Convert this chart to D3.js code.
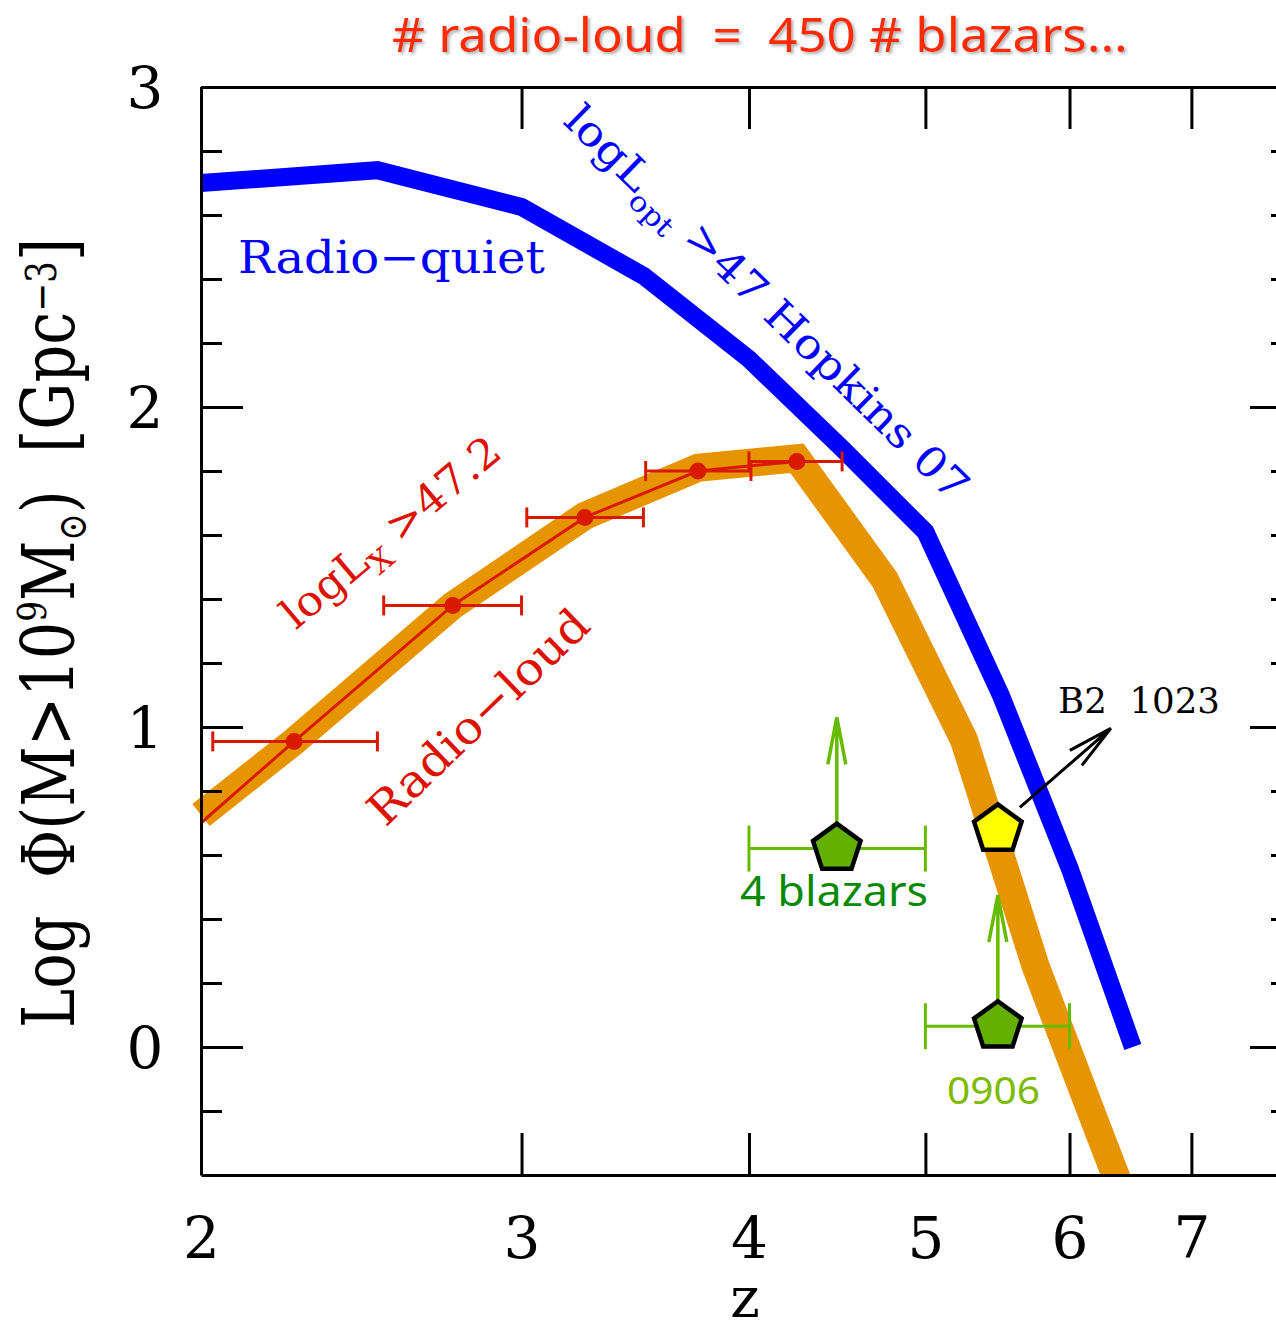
<!DOCTYPE html>
<html>
<head>
<meta charset="utf-8">
<script src="https://cdn.jsdelivr.net/npm/d3@7"></script>
<style>
    body { margin: 0; background: #fff; }
    svg { display: block; }
</style>
</head>
<body>
<div id="drawing_region"></div>
<script>
// tick values
const zTicks = [2, 3, 4, 5, 6, 7];
const yMajorTicks = [0, 1, 2, 3];
const yMinorTicks = [-0.2, 0.2, 0.4, 0.6, 0.8, 1.2, 1.4, 1.6, 1.8, 2.2, 2.4, 2.6, 2.8];

// radio-quiet (Hopkins 07), blue
const quietZ = [2.0, 2.5, 3.0, 3.5, 4.0, 4.5, 5.0, 5.5, 6.0, 6.5];
const quietLogPhi = [2.70, 2.74, 2.625, 2.41, 2.15, 1.87, 1.61, 1.10, 0.56, 0.0];

// radio-loud band, orange
const loudZ = [2.0, 2.25, 2.75, 3.25, 3.75, 4.25, 4.75, 5.25, 5.75, 6.25, 6.5];
const loudLogPhi = [0.725, 0.955, 1.38, 1.66, 1.81, 1.84, 1.46, 0.96, 0.25, -0.29, -0.54];

// logLx > 47.2 points, red
const xrayZ = [2.25, 2.75, 3.25, 3.75, 4.25];
const xrayLogPhi = [0.955, 1.38, 1.655, 1.80, 1.83];
const xrayZlo = [2.03, 2.52, 3.02, 3.51, 4.0];
const xrayZhi = [2.5, 3.0, 3.5, 4.01, 4.5];
const xrayLineZ = [2.0, 2.25, 2.75, 3.25, 3.75, 4.25];
const xrayLineLogPhi = [0.70, 0.955, 1.38, 1.655, 1.80, 1.83];

// blazar lower limits, green
const blazarNames = ["4 blazars", "0906"];
const blazarZ = [4.47, 5.48];
const blazarLogPhi = [0.62, 0.065];
const blazarZlo = [4.0, 5.0];
const blazarZhi = [5.0, 6.0];
const blazarLimit = [0.41, 0.41];

// B2 1023
const b2Z = [5.48];
const b2LogPhi = [0.68];

const serif = "'DejaVu Serif', serif";
const comic = "'Noto Sans', sans-serif";

class DensityPlot {
    constructor(selector) {
        this.width = 1276;
        this.height = 1325;
        this.frame = { left: 201, right: 1292, top: 87, bottom: 1175 };

        this.svg = d3.select(selector).append("svg")
            .attr("width", this.width)
            .attr("height", this.height);

        this.x = d3.scaleLog().domain([2, 7.95]).range([this.frame.left, this.frame.right]);
        this.y = d3.scaleLinear().domain([-0.4, 3]).range([this.frame.bottom, this.frame.top]);

        const defs = this.svg.append("defs");
        defs.append("clipPath").attr("id", "plotclip")
            .append("rect")
            .attr("x", 0).attr("y", this.frame.top)
            .attr("width", this.frame.right)
            .attr("height", this.frame.bottom - this.frame.top);
        const f = defs.append("filter").attr("id", "shadow")
            .attr("x", "-5%").attr("y", "-30%").attr("width", "110%").attr("height", "160%");
        f.append("feDropShadow").attr("dx", 2).attr("dy", 2).attr("stdDeviation", 1.5)
            .attr("flood-color", "#777").attr("flood-opacity", 0.6);
    }

    render() {
        this.drawCurves();
        this.drawAxes();
        this.drawPoints();
        this.drawLabels();
    }

    styleAxis(g) {
        g.select(".domain").attr("stroke-width", 3);
        g.selectAll(".tick line").attr("stroke-width", 3);
    }

    drawAxes() {
        const x = this.x, y = this.y, fr = this.frame;

        const bottom = this.svg.append("g")
            .attr("transform", `translate(0,${fr.bottom})`)
            .call(d3.axisBottom(x).tickValues(zTicks).tickSize(-42).tickSizeOuter(0).tickFormat(d3.format("d")));
        this.styleAxis(bottom);
        bottom.attr("font-size", 58).attr("font-family", serif);
        bottom.selectAll("text").attr("y", 83).attr("dy", null);

        const top = this.svg.append("g")
            .attr("transform", `translate(0,${fr.top})`)
            .call(d3.axisTop(x).tickValues(zTicks).tickSize(-42).tickSizeOuter(0).tickFormat(""));
        this.styleAxis(top);

        const left = this.svg.append("g")
            .attr("transform", `translate(${fr.left},0)`)
            .call(d3.axisLeft(y).tickValues(yMajorTicks).tickSize(-42).tickSizeOuter(0).tickFormat(d3.format("d")));
        this.styleAxis(left);
        left.attr("font-size", 58).attr("font-family", serif);
        left.selectAll("text").attr("x", -56).attr("dy", "0.36em").attr("text-anchor", "middle");

        const leftMinor = this.svg.append("g")
            .attr("transform", `translate(${fr.left},0)`)
            .call(d3.axisLeft(y).tickValues(yMinorTicks).tickSize(-21).tickFormat(""));
        leftMinor.select(".domain").remove();
        this.styleAxis(leftMinor);

        const right = this.svg.append("g")
            .attr("transform", `translate(${fr.right},0)`)
            .call(d3.axisRight(y).tickValues(yMajorTicks).tickSize(-42).tickSizeOuter(0).tickFormat(""));
        this.styleAxis(right);

        const rightMinor = this.svg.append("g")
            .attr("transform", `translate(${fr.right},0)`)
            .call(d3.axisRight(y).tickValues(yMinorTicks).tickSize(-21).tickFormat(""));
        rightMinor.select(".domain").remove();
        this.styleAxis(rightMinor);

        // axis titles
        this.svg.append("text")
            .attr("x", 745).attr("y", 1317)
            .attr("text-anchor", "middle")
            .attr("font-family", serif).attr("font-size", 56)
            .text("z");

        const yl = this.svg.append("text")
            .attr("font-family", serif).attr("font-size", 72)
            .attr("text-anchor", "middle")
            .style("white-space", "pre");
        yl.append("tspan").text("Log  Φ(M>10");
        yl.append("tspan").attr("font-size", 40).attr("baseline-shift", 28).text("9");
        yl.append("tspan").text("M");
        yl.append("tspan").attr("font-size", 40).attr("baseline-shift", -12).text("⊙");
        yl.append("tspan").text(")  [Gpc");
        yl.append("tspan").attr("font-size", 42).attr("baseline-shift", 18).text("−3");
        yl.append("tspan").text("]");
        this.fit(yl, 74, 633, -90, 790);
    }

    drawCurves() {
        const x = this.x, y = this.y;
        const line = d3.line().x(d => x(d[0])).y(d => y(d[1]));
        const plot = this.svg.append("g").attr("clip-path", "url(#plotclip)");

        plot.append("path")
            .datum(d3.zip(loudZ, loudLogPhi))
            .attr("d", line)
            .attr("fill", "none")
            .attr("stroke", "#e69500")
            .attr("stroke-width", 28)
            .attr("stroke-linejoin", "miter");

        plot.append("path")
            .datum(d3.zip(quietZ, quietLogPhi))
            .attr("d", line)
            .attr("fill", "none")
            .attr("stroke", "#0000ff")
            .attr("stroke-width", 18)
            .attr("stroke-linejoin", "miter");

        plot.append("path")
            .datum(d3.zip(xrayLineZ, xrayLineLogPhi))
            .attr("d", line)
            .attr("fill", "none")
            .attr("stroke", "#d81a05")
            .attr("stroke-width", 3);
    }

    pentagon(cx, cy, r) {
        return d3.range(5).map(i => {
            const a = (-90 + 72 * i) * Math.PI / 180;
            return [cx + r * Math.cos(a), cy + r * Math.sin(a)].join(",");
        }).join(" ");
    }

    drawPoints() {
        const x = this.x, y = this.y;
        const red = "#d81a05";
        const green = "#66bb00";

        // red points with z bins
        const xr = this.svg.append("g");
        const rows = xrayZ.map((z, i) => ({ z, v: xrayLogPhi[i], lo: xrayZlo[i], hi: xrayZhi[i] }));
        xr.selectAll(".bar").data(rows).enter().append("line")
            .attr("x1", d => x(d.lo)).attr("x2", d => x(d.hi))
            .attr("y1", d => y(d.v)).attr("y2", d => y(d.v))
            .attr("stroke", red).attr("stroke-width", 3);
        ["lo", "hi"].forEach(k => {
            xr.selectAll(".cap-" + k).data(rows).enter().append("line")
                .attr("x1", d => x(d[k])).attr("x2", d => x(d[k]))
                .attr("y1", d => y(d.v) - 10).attr("y2", d => y(d.v) + 10)
                .attr("stroke", red).attr("stroke-width", 3);
        });
        xr.selectAll("circle").data(rows).enter().append("circle")
            .attr("cx", d => x(d.z)).attr("cy", d => y(d.v))
            .attr("r", 8.5).attr("fill", red);

        // blazar lower limits
        const bl = this.svg.append("g");
        const brows = blazarZ.map((z, i) => ({ z, v: blazarLogPhi[i], lo: blazarZlo[i], hi: blazarZhi[i], lim: blazarLimit[i] }));
        bl.selectAll(".bar").data(brows).enter().append("line")
            .attr("x1", d => x(d.lo)).attr("x2", d => x(d.hi))
            .attr("y1", d => y(d.v)).attr("y2", d => y(d.v))
            .attr("stroke", green).attr("stroke-width", 3);
        ["lo", "hi"].forEach(k => {
            bl.selectAll(".cap-" + k).data(brows).enter().append("line")
                .attr("x1", d => x(d[k])).attr("x2", d => x(d[k]))
                .attr("y1", d => y(d.v) - 23).attr("y2", d => y(d.v) + 23)
                .attr("stroke", green).attr("stroke-width", 3);
        });
        bl.selectAll(".arrow").data(brows).enter().append("path")
            .attr("d", d => {
                const cx = x(d.z), tip = y(d.v + d.lim);
                return `M${cx},${y(d.v)}L${cx},${tip}M${cx - 9},${tip + 47}L${cx},${tip}L${cx + 9},${tip + 47}`;
            })
            .attr("fill", "none").attr("stroke", green).attr("stroke-width", 3.5);
        bl.selectAll("polygon").data(brows).enter().append("polygon")
            .attr("points", d => this.pentagon(x(d.z), y(d.v), 25))
            .attr("fill", "#63b000").attr("stroke", "#000").attr("stroke-width", 4.5)
            .attr("stroke-linejoin", "miter");

        // B2 1023
        const b2 = this.svg.append("g");
        const b2rows = b2Z.map((z, i) => ({ z, v: b2LogPhi[i] }));
        b2.selectAll("path").data(b2rows).enter().append("path")
            .attr("d", d => {
                const cx = x(d.z), cy = y(d.v);
                const tx = cx + 113, ty = cy - 101;
                return `M${cx + 22},${cy - 22}L${tx},${ty}M${tx - 41},${ty + 22}L${tx},${ty}L${tx - 29},${ty + 37}`;
            })
            .attr("fill", "none").attr("stroke", "#000").attr("stroke-width", 3);
        b2.selectAll("polygon").data(b2rows).enter().append("polygon")
            .attr("points", d => this.pentagon(x(d.z), y(d.v), 25))
            .attr("fill", "#ffff00").attr("stroke", "#000").attr("stroke-width", 4.5);
    }

    fit(t, px, py, angle, len) {
        const w = t.node().getComputedTextLength();
        t.attr("transform", `translate(${px},${py}) rotate(${angle}) scale(${len / w},1)`);
    }

    drawLabels() {
        const svg = this.svg;
        const text = (fill, family, size, anchor) => svg.append("text")
            .attr("fill", fill).attr("font-family", family).attr("font-size", size)
            .attr("text-anchor", anchor).style("white-space", "pre");

        const rq = text("#0000ff", serif, 45, "start").text("Radio−quiet");
        this.fit(rq, 238, 273, 0, 307);

        const hop = text("#0000ff", serif, 42, "middle");
        hop.append("tspan").text("logL");
        hop.append("tspan").attr("font-size", 28).attr("baseline-shift", -12).text("opt");
        hop.append("tspan").text(" >47 Hopkins 07");
        this.fit(hop, 757, 313, 44.3, 545);

        const lx = text("#dd1100", serif, 42, "middle");
        lx.append("tspan").text("logL");
        lx.append("tspan").attr("font-size", 30).attr("baseline-shift", -12).text("X");
        lx.append("tspan").text(" >47.2");
        this.fit(lx, 400, 543, -40, 272);

        const rl = text("#dd1100", serif, 45, "middle").text("Radio−loud");
        this.fit(rl, 489, 728, -44, 288);

        const b2t = text("#000", serif, 36, "start").text("B2  1023");
        this.fit(b2t, 1058, 713, 0, 162);

        const t4 = text("#078a07", comic, 42, "start").text(blazarNames[0]);
        this.fit(t4, 740, 906, 0, 188);

        const t0906 = text("#7cbb00", comic, 38, "start").text(blazarNames[1]);
        this.fit(t0906, 947, 1104, 0, 93);

        const title = text("#ff2a00", comic, 48, "start")
            .attr("filter", "url(#shadow)")
            .text("# radio-loud  =  450 # blazars...");
        this.fit(title, 392, 52, 0, 736);
    }
}

const plot = new DensityPlot("#drawing_region");
plot.render();
</script>
</body>
</html>
